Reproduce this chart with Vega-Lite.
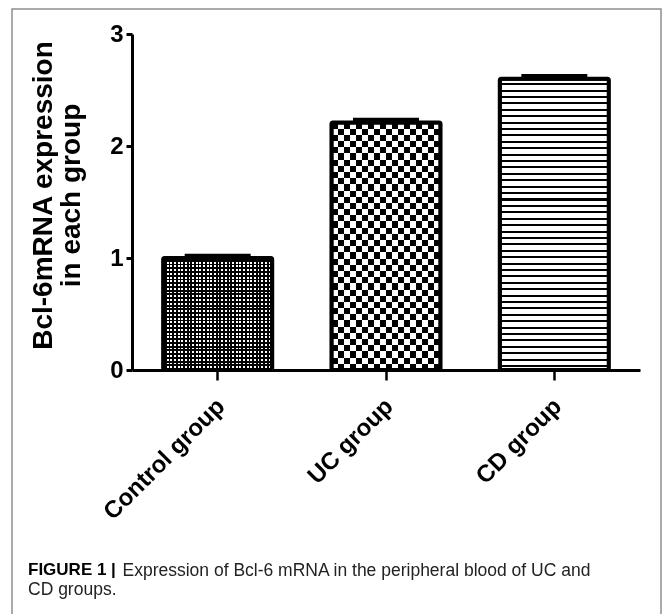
{
  "$schema": "https://vega.github.io/schema/vega-lite/v6.json",
  "description": "Bcl-6 mRNA expression by group, patterned bars",
  "autosize": {"type": "none"},
  "width": 649,
  "height": 610,
  "padding": {"left": 12, "top": 9, "right": 2, "bottom": -5},
  "background": "white",
  "data": {
    "values": [
      {"group": "Control group", "mean": 1.0, "upper": 1.02},
      {"group": "UC group", "mean": 2.21, "upper": 2.235},
      {"group": "CD group", "mean": 2.6, "upper": 2.625}
    ]
  },
  "title": {
    "text": "FIGURE 1 |",
    "subtitle": "CD groups.",
    "orient": "bottom",
    "anchor": "start",
    "frame": "group",
    "offset": -57,
    "dx": 16,
    "baseline": "top",
    "font": "Liberation Sans",
    "fontSize": 17,
    "fontWeight": "bold",
    "color": "black",
    "subtitleFont": "Liberation Sans",
    "subtitleFontSize": 17.5,
    "subtitleColor": "#222",
    "subtitlePadding": 2
  },
  "encoding": {
    "x": {
      "field": "group",
      "type": "nominal",
      "sort": ["Control group", "UC group", "CD group"],
      "scale": {"range": [120, 628], "paddingInner": 0.352, "paddingOuter": 0.185},
      "axis": {
        "orient": "bottom",
        "offset": -249,
        "labelAngle": -45,
        "labelFont": "Liberation Sans",
        "labelFontWeight": "bold",
        "labelFontSize": 24,
        "labelColor": "black",
        "labelPadding": 14,
        "labelOffset": -5,
        "tickSize": 10,
        "tickWidth": 2.5,
        "tickColor": "black",
        "domainColor": "black",
        "domainWidth": 3,
        "title": "Expression of Bcl-6 mRNA in the peripheral blood of UC and",
        "titleX": 110,
        "titleY": 205,
        "titleAlign": "left",
        "titleBaseline": "alphabetic",
        "titleFont": "Liberation Sans",
        "titleFontSize": 17.5,
        "titleFontWeight": "normal",
        "titleColor": "#222"
      }
    },
    "y": {
      "field": "mean",
      "type": "quantitative",
      "title": ["Bcl-6mRNA expression", "in each group"],
      "scale": {"domain": [0, 3], "range": [361, 25], "nice": false},
      "axis": {
        "orient": "left",
        "offset": -120,
        "values": [0, 1, 2, 3],
        "format": "d",
        "grid": false,
        "labelFont": "Liberation Sans",
        "labelFontWeight": "bold",
        "labelFontSize": 24,
        "labelColor": "black",
        "labelPadding": 3,
        "tickSize": 6,
        "tickWidth": 3,
        "tickColor": "black",
        "domainColor": "black",
        "domainWidth": 3,
        "titleFont": "Liberation Sans",
        "titleFontWeight": "bold",
        "titleFontSize": 28,
        "titleLineHeight": 28,
        "titleColor": "black",
        "titleX": -75,
        "titleY": 186
      }
    }
  },
  "layer": [
    {
      "transform": [{"filter": "datum.group == 'Control group'"}],
      "mark": {"type": "bar", "fill": {"gradient": "linear", "x1": 0, "y1": 0, "x2": 0, "y2": 1, "stops": [
        {"offset":0,"color":"#fff"},{"offset":0.0167,"color":"#fff"},{"offset":0.0167,"color":"#000"},{"offset":0.0333,"color":"#000"},
        {"offset":0.0333,"color":"#fff"},{"offset":0.05,"color":"#fff"},{"offset":0.05,"color":"#000"},{"offset":0.0667,"color":"#000"},
        {"offset":0.0667,"color":"#fff"},{"offset":0.0833,"color":"#fff"},{"offset":0.0833,"color":"#000"},{"offset":0.1,"color":"#000"},
        {"offset":0.1,"color":"#fff"},{"offset":0.1167,"color":"#fff"},{"offset":0.1167,"color":"#000"},{"offset":0.1333,"color":"#000"},
        {"offset":0.1333,"color":"#fff"},{"offset":0.15,"color":"#fff"},{"offset":0.15,"color":"#000"},{"offset":0.1667,"color":"#000"},
        {"offset":0.1667,"color":"#fff"},{"offset":0.1833,"color":"#fff"},{"offset":0.1833,"color":"#000"},{"offset":0.2,"color":"#000"},
        {"offset":0.2,"color":"#fff"},{"offset":0.2167,"color":"#fff"},{"offset":0.2167,"color":"#000"},{"offset":0.2333,"color":"#000"},
        {"offset":0.2333,"color":"#fff"},{"offset":0.25,"color":"#fff"},{"offset":0.25,"color":"#000"},{"offset":0.2667,"color":"#000"},
        {"offset":0.2667,"color":"#fff"},{"offset":0.2833,"color":"#fff"},{"offset":0.2833,"color":"#000"},{"offset":0.3,"color":"#000"},
        {"offset":0.3,"color":"#fff"},{"offset":0.3167,"color":"#fff"},{"offset":0.3167,"color":"#000"},{"offset":0.3333,"color":"#000"},
        {"offset":0.3333,"color":"#fff"},{"offset":0.35,"color":"#fff"},{"offset":0.35,"color":"#000"},{"offset":0.3667,"color":"#000"},
        {"offset":0.3667,"color":"#fff"},{"offset":0.3833,"color":"#fff"},{"offset":0.3833,"color":"#000"},{"offset":0.4,"color":"#000"},
        {"offset":0.4,"color":"#fff"},{"offset":0.4167,"color":"#fff"},{"offset":0.4167,"color":"#000"},{"offset":0.4333,"color":"#000"},
        {"offset":0.4333,"color":"#fff"},{"offset":0.45,"color":"#fff"},{"offset":0.45,"color":"#000"},{"offset":0.4667,"color":"#000"},
        {"offset":0.4667,"color":"#fff"},{"offset":0.4833,"color":"#fff"},{"offset":0.4833,"color":"#000"},{"offset":0.5,"color":"#000"},
        {"offset":0.5,"color":"#fff"},{"offset":0.5167,"color":"#fff"},{"offset":0.5167,"color":"#000"},{"offset":0.5333,"color":"#000"},
        {"offset":0.5333,"color":"#fff"},{"offset":0.55,"color":"#fff"},{"offset":0.55,"color":"#000"},{"offset":0.5667,"color":"#000"},
        {"offset":0.5667,"color":"#fff"},{"offset":0.5833,"color":"#fff"},{"offset":0.5833,"color":"#000"},{"offset":0.6,"color":"#000"},
        {"offset":0.6,"color":"#fff"},{"offset":0.6167,"color":"#fff"},{"offset":0.6167,"color":"#000"},{"offset":0.6333,"color":"#000"},
        {"offset":0.6333,"color":"#fff"},{"offset":0.65,"color":"#fff"},{"offset":0.65,"color":"#000"},{"offset":0.6667,"color":"#000"},
        {"offset":0.6667,"color":"#fff"},{"offset":0.6833,"color":"#fff"},{"offset":0.6833,"color":"#000"},{"offset":0.7,"color":"#000"},
        {"offset":0.7,"color":"#fff"},{"offset":0.7167,"color":"#fff"},{"offset":0.7167,"color":"#000"},{"offset":0.7333,"color":"#000"},
        {"offset":0.7333,"color":"#fff"},{"offset":0.75,"color":"#fff"},{"offset":0.75,"color":"#000"},{"offset":0.7667,"color":"#000"},
        {"offset":0.7667,"color":"#fff"},{"offset":0.7833,"color":"#fff"},{"offset":0.7833,"color":"#000"},{"offset":0.8,"color":"#000"},
        {"offset":0.8,"color":"#fff"},{"offset":0.8167,"color":"#fff"},{"offset":0.8167,"color":"#000"},{"offset":0.8333,"color":"#000"},
        {"offset":0.8333,"color":"#fff"},{"offset":0.85,"color":"#fff"},{"offset":0.85,"color":"#000"},{"offset":0.8667,"color":"#000"},
        {"offset":0.8667,"color":"#fff"},{"offset":0.8833,"color":"#fff"},{"offset":0.8833,"color":"#000"},{"offset":0.9,"color":"#000"},
        {"offset":0.9,"color":"#fff"},{"offset":0.9167,"color":"#fff"},{"offset":0.9167,"color":"#000"},{"offset":0.9333,"color":"#000"},
        {"offset":0.9333,"color":"#fff"},{"offset":0.95,"color":"#fff"},{"offset":0.95,"color":"#000"},{"offset":0.9667,"color":"#000"},
        {"offset":0.9667,"color":"#fff"},{"offset":0.9833,"color":"#fff"},{"offset":0.9833,"color":"#000"},{"offset":1,"color":"#000"}
      ]}}
    },
    {
      "transform": [{"filter": "datum.group == 'Control group'"}],
      "mark": {"type": "bar", "blend": "multiply", "fill": {"gradient": "linear", "x1": 0, "y1": 0, "x2": 1, "y2": 0, "stops": [
        {"offset":0,"color":"#fff"},{"offset":0.0167,"color":"#fff"},{"offset":0.0167,"color":"#000"},{"offset":0.0333,"color":"#000"},
        {"offset":0.0333,"color":"#fff"},{"offset":0.05,"color":"#fff"},{"offset":0.05,"color":"#000"},{"offset":0.0667,"color":"#000"},
        {"offset":0.0667,"color":"#fff"},{"offset":0.0833,"color":"#fff"},{"offset":0.0833,"color":"#000"},{"offset":0.1,"color":"#000"},
        {"offset":0.1,"color":"#fff"},{"offset":0.1167,"color":"#fff"},{"offset":0.1167,"color":"#000"},{"offset":0.1333,"color":"#000"},
        {"offset":0.1333,"color":"#fff"},{"offset":0.15,"color":"#fff"},{"offset":0.15,"color":"#000"},{"offset":0.1667,"color":"#000"},
        {"offset":0.1667,"color":"#fff"},{"offset":0.1833,"color":"#fff"},{"offset":0.1833,"color":"#000"},{"offset":0.2,"color":"#000"},
        {"offset":0.2,"color":"#fff"},{"offset":0.2167,"color":"#fff"},{"offset":0.2167,"color":"#000"},{"offset":0.2333,"color":"#000"},
        {"offset":0.2333,"color":"#fff"},{"offset":0.25,"color":"#fff"},{"offset":0.25,"color":"#000"},{"offset":0.2667,"color":"#000"},
        {"offset":0.2667,"color":"#fff"},{"offset":0.2833,"color":"#fff"},{"offset":0.2833,"color":"#000"},{"offset":0.3,"color":"#000"},
        {"offset":0.3,"color":"#fff"},{"offset":0.3167,"color":"#fff"},{"offset":0.3167,"color":"#000"},{"offset":0.3333,"color":"#000"},
        {"offset":0.3333,"color":"#fff"},{"offset":0.35,"color":"#fff"},{"offset":0.35,"color":"#000"},{"offset":0.3667,"color":"#000"},
        {"offset":0.3667,"color":"#fff"},{"offset":0.3833,"color":"#fff"},{"offset":0.3833,"color":"#000"},{"offset":0.4,"color":"#000"},
        {"offset":0.4,"color":"#fff"},{"offset":0.4167,"color":"#fff"},{"offset":0.4167,"color":"#000"},{"offset":0.4333,"color":"#000"},
        {"offset":0.4333,"color":"#fff"},{"offset":0.45,"color":"#fff"},{"offset":0.45,"color":"#000"},{"offset":0.4667,"color":"#000"},
        {"offset":0.4667,"color":"#fff"},{"offset":0.4833,"color":"#fff"},{"offset":0.4833,"color":"#000"},{"offset":0.5,"color":"#000"},
        {"offset":0.5,"color":"#fff"},{"offset":0.5167,"color":"#fff"},{"offset":0.5167,"color":"#000"},{"offset":0.5333,"color":"#000"},
        {"offset":0.5333,"color":"#fff"},{"offset":0.55,"color":"#fff"},{"offset":0.55,"color":"#000"},{"offset":0.5667,"color":"#000"},
        {"offset":0.5667,"color":"#fff"},{"offset":0.5833,"color":"#fff"},{"offset":0.5833,"color":"#000"},{"offset":0.6,"color":"#000"},
        {"offset":0.6,"color":"#fff"},{"offset":0.6167,"color":"#fff"},{"offset":0.6167,"color":"#000"},{"offset":0.6333,"color":"#000"},
        {"offset":0.6333,"color":"#fff"},{"offset":0.65,"color":"#fff"},{"offset":0.65,"color":"#000"},{"offset":0.6667,"color":"#000"},
        {"offset":0.6667,"color":"#fff"},{"offset":0.6833,"color":"#fff"},{"offset":0.6833,"color":"#000"},{"offset":0.7,"color":"#000"},
        {"offset":0.7,"color":"#fff"},{"offset":0.7167,"color":"#fff"},{"offset":0.7167,"color":"#000"},{"offset":0.7333,"color":"#000"},
        {"offset":0.7333,"color":"#fff"},{"offset":0.75,"color":"#fff"},{"offset":0.75,"color":"#000"},{"offset":0.7667,"color":"#000"},
        {"offset":0.7667,"color":"#fff"},{"offset":0.7833,"color":"#fff"},{"offset":0.7833,"color":"#000"},{"offset":0.8,"color":"#000"},
        {"offset":0.8,"color":"#fff"},{"offset":0.8167,"color":"#fff"},{"offset":0.8167,"color":"#000"},{"offset":0.8333,"color":"#000"},
        {"offset":0.8333,"color":"#fff"},{"offset":0.85,"color":"#fff"},{"offset":0.85,"color":"#000"},{"offset":0.8667,"color":"#000"},
        {"offset":0.8667,"color":"#fff"},{"offset":0.8833,"color":"#fff"},{"offset":0.8833,"color":"#000"},{"offset":0.9,"color":"#000"},
        {"offset":0.9,"color":"#fff"},{"offset":0.9167,"color":"#fff"},{"offset":0.9167,"color":"#000"},{"offset":0.9333,"color":"#000"},
        {"offset":0.9333,"color":"#fff"},{"offset":0.95,"color":"#fff"},{"offset":0.95,"color":"#000"},{"offset":0.9667,"color":"#000"},
        {"offset":0.9667,"color":"#fff"},{"offset":0.9833,"color":"#fff"},{"offset":0.9833,"color":"#000"},{"offset":1,"color":"#000"}
      ]}}
    },
    {
      "transform": [{"filter": "datum.group == 'UC group'"}],
      "mark": {"type": "bar", "fill": {"gradient": "linear", "x1": 0, "y1": 0, "x2": 0, "y2": 1, "stops": [
        {"offset":0,"color":"#fff"},{"offset":0.025,"color":"#fff"},{"offset":0.025,"color":"#000"},{"offset":0.05,"color":"#000"},
        {"offset":0.05,"color":"#fff"},{"offset":0.075,"color":"#fff"},{"offset":0.075,"color":"#000"},{"offset":0.1,"color":"#000"},
        {"offset":0.1,"color":"#fff"},{"offset":0.125,"color":"#fff"},{"offset":0.125,"color":"#000"},{"offset":0.15,"color":"#000"},
        {"offset":0.15,"color":"#fff"},{"offset":0.175,"color":"#fff"},{"offset":0.175,"color":"#000"},{"offset":0.2,"color":"#000"},
        {"offset":0.2,"color":"#fff"},{"offset":0.225,"color":"#fff"},{"offset":0.225,"color":"#000"},{"offset":0.25,"color":"#000"},
        {"offset":0.25,"color":"#fff"},{"offset":0.275,"color":"#fff"},{"offset":0.275,"color":"#000"},{"offset":0.3,"color":"#000"},
        {"offset":0.3,"color":"#fff"},{"offset":0.325,"color":"#fff"},{"offset":0.325,"color":"#000"},{"offset":0.35,"color":"#000"},
        {"offset":0.35,"color":"#fff"},{"offset":0.375,"color":"#fff"},{"offset":0.375,"color":"#000"},{"offset":0.4,"color":"#000"},
        {"offset":0.4,"color":"#fff"},{"offset":0.425,"color":"#fff"},{"offset":0.425,"color":"#000"},{"offset":0.45,"color":"#000"},
        {"offset":0.45,"color":"#fff"},{"offset":0.475,"color":"#fff"},{"offset":0.475,"color":"#000"},{"offset":0.5,"color":"#000"},
        {"offset":0.5,"color":"#fff"},{"offset":0.525,"color":"#fff"},{"offset":0.525,"color":"#000"},{"offset":0.55,"color":"#000"},
        {"offset":0.55,"color":"#fff"},{"offset":0.575,"color":"#fff"},{"offset":0.575,"color":"#000"},{"offset":0.6,"color":"#000"},
        {"offset":0.6,"color":"#fff"},{"offset":0.625,"color":"#fff"},{"offset":0.625,"color":"#000"},{"offset":0.65,"color":"#000"},
        {"offset":0.65,"color":"#fff"},{"offset":0.675,"color":"#fff"},{"offset":0.675,"color":"#000"},{"offset":0.7,"color":"#000"},
        {"offset":0.7,"color":"#fff"},{"offset":0.725,"color":"#fff"},{"offset":0.725,"color":"#000"},{"offset":0.75,"color":"#000"},
        {"offset":0.75,"color":"#fff"},{"offset":0.775,"color":"#fff"},{"offset":0.775,"color":"#000"},{"offset":0.8,"color":"#000"},
        {"offset":0.8,"color":"#fff"},{"offset":0.825,"color":"#fff"},{"offset":0.825,"color":"#000"},{"offset":0.85,"color":"#000"},
        {"offset":0.85,"color":"#fff"},{"offset":0.875,"color":"#fff"},{"offset":0.875,"color":"#000"},{"offset":0.9,"color":"#000"},
        {"offset":0.9,"color":"#fff"},{"offset":0.925,"color":"#fff"},{"offset":0.925,"color":"#000"},{"offset":0.95,"color":"#000"},
        {"offset":0.95,"color":"#fff"},{"offset":0.975,"color":"#fff"},{"offset":0.975,"color":"#000"},{"offset":1,"color":"#000"}
      ]}}
    },
    {
      "transform": [{"filter": "datum.group == 'UC group'"}],
      "mark": {"type": "bar", "blend": "difference", "fill": {"gradient": "linear", "x1": 0, "y1": 0, "x2": 1, "y2": 0, "stops": [
        {"offset":0,"color":"#fff"},{"offset":0.0556,"color":"#fff"},{"offset":0.0556,"color":"#000"},{"offset":0.1111,"color":"#000"},
        {"offset":0.1111,"color":"#fff"},{"offset":0.1667,"color":"#fff"},{"offset":0.1667,"color":"#000"},{"offset":0.2222,"color":"#000"},
        {"offset":0.2222,"color":"#fff"},{"offset":0.2778,"color":"#fff"},{"offset":0.2778,"color":"#000"},{"offset":0.3333,"color":"#000"},
        {"offset":0.3333,"color":"#fff"},{"offset":0.3889,"color":"#fff"},{"offset":0.3889,"color":"#000"},{"offset":0.4444,"color":"#000"},
        {"offset":0.4444,"color":"#fff"},{"offset":0.5,"color":"#fff"},{"offset":0.5,"color":"#000"},{"offset":0.5556,"color":"#000"},
        {"offset":0.5556,"color":"#fff"},{"offset":0.6111,"color":"#fff"},{"offset":0.6111,"color":"#000"},{"offset":0.6667,"color":"#000"},
        {"offset":0.6667,"color":"#fff"},{"offset":0.7222,"color":"#fff"},{"offset":0.7222,"color":"#000"},{"offset":0.7778,"color":"#000"},
        {"offset":0.7778,"color":"#fff"},{"offset":0.8333,"color":"#fff"},{"offset":0.8333,"color":"#000"},{"offset":0.8889,"color":"#000"},
        {"offset":0.8889,"color":"#fff"},{"offset":0.9444,"color":"#fff"},{"offset":0.9444,"color":"#000"},{"offset":1,"color":"#000"}
      ]}}
    },
    {
      "transform": [{"filter": "datum.group == 'CD group'"}],
      "mark": {"type": "bar", "fill": {"gradient": "linear", "x1": 0, "y1": 0, "x2": 0, "y2": 1, "stops": [
        {"offset":0,"color":"#fff"},{"offset":0.015,"color":"#fff"},{"offset":0.015,"color":"#000"},{"offset":0.022,"color":"#000"},
        {"offset":0.022,"color":"#fff"},{"offset":0.037,"color":"#fff"},{"offset":0.037,"color":"#000"},{"offset":0.044,"color":"#000"},
        {"offset":0.044,"color":"#fff"},{"offset":0.059,"color":"#fff"},{"offset":0.059,"color":"#000"},{"offset":0.066,"color":"#000"},
        {"offset":0.066,"color":"#fff"},{"offset":0.081,"color":"#fff"},{"offset":0.081,"color":"#000"},{"offset":0.088,"color":"#000"},
        {"offset":0.088,"color":"#fff"},{"offset":0.103,"color":"#fff"},{"offset":0.103,"color":"#000"},{"offset":0.11,"color":"#000"},
        {"offset":0.11,"color":"#fff"},{"offset":0.125,"color":"#fff"},{"offset":0.125,"color":"#000"},{"offset":0.132,"color":"#000"},
        {"offset":0.132,"color":"#fff"},{"offset":0.147,"color":"#fff"},{"offset":0.147,"color":"#000"},{"offset":0.154,"color":"#000"},
        {"offset":0.154,"color":"#fff"},{"offset":0.169,"color":"#fff"},{"offset":0.169,"color":"#000"},{"offset":0.176,"color":"#000"},
        {"offset":0.176,"color":"#fff"},{"offset":0.191,"color":"#fff"},{"offset":0.191,"color":"#000"},{"offset":0.198,"color":"#000"},
        {"offset":0.198,"color":"#fff"},{"offset":0.213,"color":"#fff"},{"offset":0.213,"color":"#000"},{"offset":0.22,"color":"#000"},
        {"offset":0.22,"color":"#fff"},{"offset":0.235,"color":"#fff"},{"offset":0.235,"color":"#000"},{"offset":0.242,"color":"#000"},
        {"offset":0.242,"color":"#fff"},{"offset":0.257,"color":"#fff"},{"offset":0.257,"color":"#000"},{"offset":0.264,"color":"#000"},
        {"offset":0.264,"color":"#fff"},{"offset":0.279,"color":"#fff"},{"offset":0.279,"color":"#000"},{"offset":0.286,"color":"#000"},
        {"offset":0.286,"color":"#fff"},{"offset":0.301,"color":"#fff"},{"offset":0.301,"color":"#000"},{"offset":0.308,"color":"#000"},
        {"offset":0.308,"color":"#fff"},{"offset":0.323,"color":"#fff"},{"offset":0.323,"color":"#000"},{"offset":0.33,"color":"#000"},
        {"offset":0.33,"color":"#fff"},{"offset":0.345,"color":"#fff"},{"offset":0.345,"color":"#000"},{"offset":0.352,"color":"#000"},
        {"offset":0.352,"color":"#fff"},{"offset":0.367,"color":"#fff"},{"offset":0.367,"color":"#000"},{"offset":0.374,"color":"#000"},
        {"offset":0.374,"color":"#fff"},{"offset":0.389,"color":"#fff"},{"offset":0.389,"color":"#000"},{"offset":0.396,"color":"#000"},
        {"offset":0.396,"color":"#fff"},{"offset":0.411,"color":"#fff"},{"offset":0.411,"color":"#000"},{"offset":0.418,"color":"#000"},
        {"offset":0.418,"color":"#fff"},{"offset":0.433,"color":"#fff"},{"offset":0.433,"color":"#000"},{"offset":0.44,"color":"#000"},
        {"offset":0.44,"color":"#fff"},{"offset":0.455,"color":"#fff"},{"offset":0.455,"color":"#000"},{"offset":0.462,"color":"#000"},
        {"offset":0.462,"color":"#fff"},{"offset":0.477,"color":"#fff"},{"offset":0.477,"color":"#000"},{"offset":0.484,"color":"#000"},
        {"offset":0.484,"color":"#fff"},{"offset":0.499,"color":"#fff"},{"offset":0.499,"color":"#000"},{"offset":0.506,"color":"#000"},
        {"offset":0.506,"color":"#fff"},{"offset":0.521,"color":"#fff"},{"offset":0.521,"color":"#000"},{"offset":0.528,"color":"#000"},
        {"offset":0.528,"color":"#fff"},{"offset":0.543,"color":"#fff"},{"offset":0.543,"color":"#000"},{"offset":0.55,"color":"#000"},
        {"offset":0.55,"color":"#fff"},{"offset":0.565,"color":"#fff"},{"offset":0.565,"color":"#000"},{"offset":0.572,"color":"#000"},
        {"offset":0.572,"color":"#fff"},{"offset":0.587,"color":"#fff"},{"offset":0.587,"color":"#000"},{"offset":0.594,"color":"#000"},
        {"offset":0.594,"color":"#fff"},{"offset":0.609,"color":"#fff"},{"offset":0.609,"color":"#000"},{"offset":0.616,"color":"#000"},
        {"offset":0.616,"color":"#fff"},{"offset":0.631,"color":"#fff"},{"offset":0.631,"color":"#000"},{"offset":0.638,"color":"#000"},
        {"offset":0.638,"color":"#fff"},{"offset":0.653,"color":"#fff"},{"offset":0.653,"color":"#000"},{"offset":0.66,"color":"#000"},
        {"offset":0.66,"color":"#fff"},{"offset":0.675,"color":"#fff"},{"offset":0.675,"color":"#000"},{"offset":0.682,"color":"#000"},
        {"offset":0.682,"color":"#fff"},{"offset":0.697,"color":"#fff"},{"offset":0.697,"color":"#000"},{"offset":0.704,"color":"#000"},
        {"offset":0.704,"color":"#fff"},{"offset":0.719,"color":"#fff"},{"offset":0.719,"color":"#000"},{"offset":0.726,"color":"#000"},
        {"offset":0.726,"color":"#fff"},{"offset":0.741,"color":"#fff"},{"offset":0.741,"color":"#000"},{"offset":0.748,"color":"#000"},
        {"offset":0.748,"color":"#fff"},{"offset":0.763,"color":"#fff"},{"offset":0.763,"color":"#000"},{"offset":0.77,"color":"#000"},
        {"offset":0.77,"color":"#fff"},{"offset":0.785,"color":"#fff"},{"offset":0.785,"color":"#000"},{"offset":0.792,"color":"#000"},
        {"offset":0.792,"color":"#fff"},{"offset":0.807,"color":"#fff"},{"offset":0.807,"color":"#000"},{"offset":0.814,"color":"#000"},
        {"offset":0.814,"color":"#fff"},{"offset":0.829,"color":"#fff"},{"offset":0.829,"color":"#000"},{"offset":0.836,"color":"#000"},
        {"offset":0.836,"color":"#fff"},{"offset":0.851,"color":"#fff"},{"offset":0.851,"color":"#000"},{"offset":0.858,"color":"#000"},
        {"offset":0.858,"color":"#fff"},{"offset":0.873,"color":"#fff"},{"offset":0.873,"color":"#000"},{"offset":0.88,"color":"#000"},
        {"offset":0.88,"color":"#fff"},{"offset":0.895,"color":"#fff"},{"offset":0.895,"color":"#000"},{"offset":0.902,"color":"#000"},
        {"offset":0.902,"color":"#fff"},{"offset":0.917,"color":"#fff"},{"offset":0.917,"color":"#000"},{"offset":0.924,"color":"#000"},
        {"offset":0.924,"color":"#fff"},{"offset":0.939,"color":"#fff"},{"offset":0.939,"color":"#000"},{"offset":0.946,"color":"#000"},
        {"offset":0.946,"color":"#fff"},{"offset":0.961,"color":"#fff"},{"offset":0.961,"color":"#000"},{"offset":0.968,"color":"#000"},
        {"offset":0.968,"color":"#fff"},{"offset":0.983,"color":"#fff"},{"offset":0.983,"color":"#000"},{"offset":0.99,"color":"#000"},
        {"offset":0.99,"color":"#fff"},{"offset":1,"color":"#fff"}
      ]}}
    },
    {
      "mark": {"type": "bar", "fill": "transparent", "stroke": "black", "strokeWidth": 4, "cornerRadius": 1.5}
    },
    {
      "mark": {"type": "tick", "color": "black", "opacity": 1, "thickness": 4, "size": 66},
      "encoding": {
        "y": {"field": "upper", "type": "quantitative", "title": ["Bcl-6mRNA expression", "in each group"]}
      }
    }
  ],
  "config": {
    "view": {"stroke": "#8f8f8f", "strokeWidth": 1.5},
    "font": "Liberation Sans"
  }
}
